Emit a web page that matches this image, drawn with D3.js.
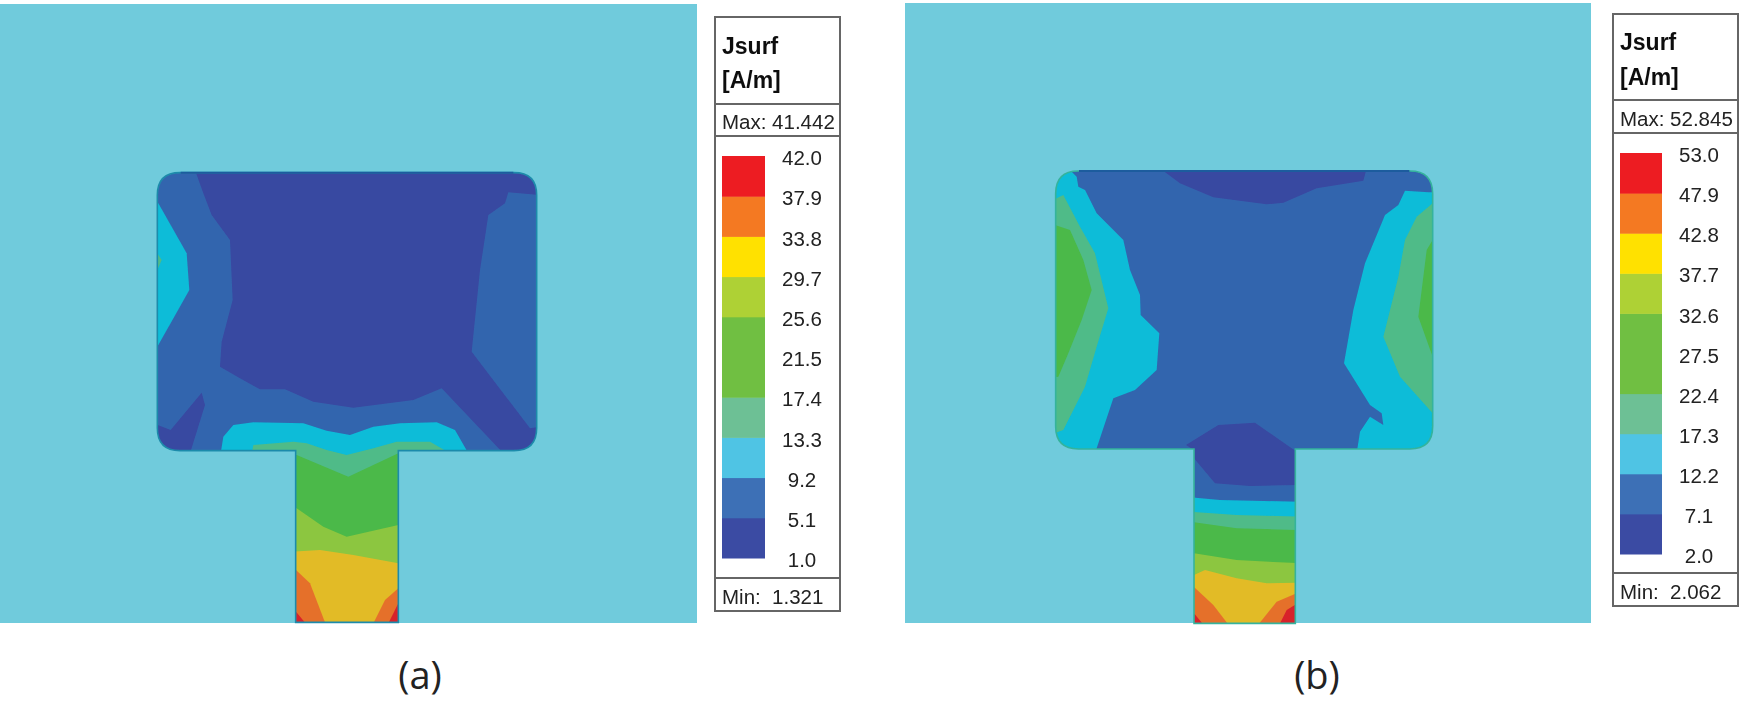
<!DOCTYPE html>
<html><head><meta charset="utf-8">
<script src="https://cdn.jsdelivr.net/npm/d3@7/dist/d3.min.js"></script>
<style>html,body{margin:0;padding:0;background:#fff;overflow:hidden}svg{display:block}</style>
</head><body><svg id="c" width="1744" height="705"></svg>
<script>
// legend ticks
const ticksA = [42.0,37.9,33.8,29.7,25.6,21.5,17.4,13.3,9.2,5.1,1.0];
const ticksB = [53.0,47.9,42.8,37.7,32.6,27.5,22.4,17.3,12.2,7.1,2.0];
const maxA = "41.442", minA = "1.321", maxB = "52.845", minB = "2.062";
const title = ["Jsurf","[A/m]"];
const captions = ["(a)","(b)"];
// colour per band, lowest first
const legendColors = ["#3a4ba3","#3d6fb6","#50c4e4","#6dc095","#70bf42","#70bf42","#aed136","#ffe100","#f47920","#ed1c24"];
const fieldColors  = ["#3948a1","#3365ae","#0cbcd8","#4fbb88","#4bb948","#4bb948","#8cc63f","#e2bb28","#e5702b","#d8202a"];

// contour regions of the current field: [band, vertices in mesh units], painted in order
const patchA = {x0:52,x1:1190,y0:38,y1:872,fx0:467,fx1:775,fy1:1387};
const patchB = {x0:47,x1:1178,y0:33,y1:867,fx0:462,fx1:766,fy1:1390};
const contoursA = [
 [0,[[165,30],[190,100],[215,165],[270,240],[278,420],[245,545],[240,620],[300,655],[360,688],[435,688],[520,725],[640,743],[820,720],[905,685],[1090,880],[1200,880],[1200,800],[1170,805],[995,575],[1020,330],[1045,165],[1095,130],[1105,97],[1200,105],[1200,30]]],
 [0,[[40,790],[92,810],[150,740],[185,698],[195,735],[150,880],[40,880]]],
 [2,[[40,125],[55,130],[140,280],[148,390],[52,560],[40,565]]],
 [3,[[40,280],[52,280],[65,300],[52,330],[40,330]]],
 [2,[[242,880],[250,830],[280,795],[340,787],[490,790],[560,812],[630,825],[700,800],[780,790],[890,787],[945,810],[985,880],[800,960],[440,960]]],
 [3,[[335,880],[340,855],[460,845],[500,850],[560,870],[620,885],[700,865],[770,845],[870,845],[930,880],[790,1000],[440,1000]]],
 [4,[[455,885],[470,885],[625,950],[775,880],[790,880],[790,1400],[455,1400]]],
 [6,[[455,1045],[470,1045],[550,1100],[620,1130],[775,1095],[790,1095],[790,1400],[455,1400]]],
 [7,[[455,1175],[540,1170],[640,1185],[775,1210],[790,1210],[790,1400],[455,1400]]],
 [8,[[455,1225],[468,1230],[510,1270],[560,1400],[455,1400]]],
 [8,[[695,1400],[735,1320],[775,1285],[790,1285],[790,1400]]],
 [9,[[455,1355],[468,1355],[505,1400],[455,1400]]],
 [9,[[740,1400],[775,1330],[790,1330],[790,1400]]]
];
const contoursB = [
 [0,[[360,25],[420,70],[520,112],[680,133],[730,128],[830,85],[970,62],[980,25]]],
 [2,[[30,30],[90,30],[110,50],[115,80],[135,90],[170,160],[250,240],[270,330],[300,405],[302,465],[358,520],[350,630],[285,690],[220,715],[165,880],[30,880]]],
 [3,[[30,145],[50,115],[70,105],[120,200],[165,280],[205,445],[170,560],[135,680],[70,810],[30,825]]],
 [4,[[30,190],[90,210],[130,300],[155,390],[125,480],[85,580],[55,650],[30,655]]],
 [2,[[1095,92],[1165,97],[1190,97],[1190,880],[950,880],[960,815],[990,770],[1030,795],[1025,760],[990,735],[912,610],[940,450],[975,310],[1035,165],[1075,135]]],
 [3,[[1190,125],[1178,130],[1130,170],[1095,240],[1075,350],[1030,530],[1080,650],[1178,760],[1190,760]]],
 [4,[[1190,240],[1178,240],[1160,270],[1135,470],[1178,590],[1190,590]]],
 [0,[[438,855],[535,795],[645,788],[770,875],[770,975],[630,978],[525,970],[462,895],[462,870]]],
 [2,[[450,1012],[540,1020],[780,1025],[780,1400],[450,1400]]],
 [3,[[450,1055],[590,1065],[780,1070],[780,1400],[450,1400]]],
 [4,[[450,1085],[590,1105],[780,1110],[780,1400],[450,1400]]],
 [6,[[450,1178],[590,1200],[780,1210],[780,1400],[450,1400]]],
 [7,[[450,1250],[495,1230],[590,1255],[680,1270],[780,1268],[780,1400],[450,1400]]],
 [8,[[450,1270],[520,1335],[570,1400],[450,1400]]],
 [8,[[650,1400],[710,1325],[780,1295],[780,1400]]],
 [9,[[450,1345],[495,1400],[450,1400]]],
 [9,[[715,1400],[740,1350],[780,1325],[780,1400]]]
];

const svg = d3.select("#c");
const defs = svg.append("defs");
defs.append("filter").attr("id","soft").attr("x","-2%").attr("y","-2%").attr("width","104%").attr("height","104%")
  .append("feGaussianBlur").attr("stdDeviation",0.6);
defs.append("filter").attr("id","softText").attr("x","-5%").attr("y","-5%").attr("width","110%").attr("height","110%")
  .append("feGaussianBlur").attr("stdDeviation",0.35);

function outline(p,x,y,r){
  const X=v=>x(v), Y=v=>y(v), R=x(p.x0+r)-x(p.x0);
  return `M${X(p.x0)+R},${Y(p.y0)}H${X(p.x1)-R}Q${X(p.x1)},${Y(p.y0)} ${X(p.x1)},${Y(p.y0)+R}`+
   `V${Y(p.y1)-R}Q${X(p.x1)},${Y(p.y1)} ${X(p.x1)-R},${Y(p.y1)}H${X(p.fx1)}V${Y(p.fy1)}H${X(p.fx0)}V${Y(p.y1)}`+
   `H${X(p.x0)+R}Q${X(p.x0)},${Y(p.y1)} ${X(p.x0)},${Y(p.y1)-R}V${Y(p.y0)+R}Q${X(p.x0)},${Y(p.y0)} ${X(p.x0)+R},${Y(p.y0)}Z`;
}

function field(id,cfg){
  const x=d3.scaleLinear().domain([0,1260]).range([cfg.ox,cfg.ox+420]);
  const y=d3.scaleLinear().domain([0,900]).range([160,460]);
  const g=svg.append("g").attr("filter","url(#soft)");
  g.append("rect").attr("x",cfg.bg[0]).attr("y",cfg.bg[1]).attr("width",cfg.bg[2]-cfg.bg[0]).attr("height",cfg.bg[3]-cfg.bg[1]).attr("fill","#6fcbdc");
  const d=outline(cfg.patch,x,y,68);
  defs.append("clipPath").attr("id","clip"+id).append("path").attr("d",d);
  const inner=g.append("g").attr("clip-path",`url(#clip${id})`);
  inner.append("path").attr("d",d).attr("fill",fieldColors[1]);
  const line=d3.line().x(p=>x(p[0])).y(p=>y(p[1])).curve(d3.curveLinearClosed);
  inner.selectAll("path.c").data(cfg.contours).join("path").attr("class","c")
    .attr("d",c=>line(c[1])).attr("fill",c=>fieldColors[c[0]]);
  g.append("path").attr("d",d).attr("fill","none").attr("stroke",cfg.edge).attr("stroke-width",1.6);
  const p=cfg.patch;
  g.append("line").attr("x1",x(p.x0+70)).attr("x2",x(p.x1-70)).attr("y1",y(p.y0)).attr("y2",y(p.y0)).attr("stroke","#1f5c9e").attr("stroke-width",2);
}

function legend(cfg){
  const g=svg.append("g").attr("filter","url(#softText)");
  const F="Liberation Sans, Arial, sans-serif";
  const L=cfg.box[0],R=cfg.box[1];
  g.append("rect").attr("x",L).attr("y",cfg.box[2]).attr("width",R-L).attr("height",cfg.box[3]-cfg.box[2]).attr("fill","#fff").attr("stroke","#666").attr("stroke-width",2);
  cfg.div.forEach(v=>g.append("line").attr("x1",L).attr("x2",R).attr("y1",v).attr("y2",v).attr("stroke","#666").attr("stroke-width",2));
  const tx=cfg.bar[0];
  title.forEach((t,i)=>g.append("text").attr("x",tx).attr("y",cfg.titleY[i]).text(t).attr("font-family",F).attr("font-weight",700).attr("font-size",23).attr("fill","#111"));
  g.append("text").attr("x",tx).attr("y",cfg.maxY).text("Max: "+cfg.max).attr("font-family",F).attr("font-size",20.5).attr("fill","#222");
  g.append("text").attr("x",tx).attr("y",cfg.minY).attr("xml:space","preserve").style("white-space","pre").text("Min:  "+cfg.min).attr("font-family",F).attr("font-size",20.5).attr("fill","#222");
  const n=cfg.ticks.length;
  const s=d3.scaleLinear().domain([cfg.ticks[n-1],cfg.ticks[0]]).range([cfg.yr[1],cfg.yr[0]]);
  const rev=cfg.ticks.slice().reverse();
  g.selectAll("rect.b").data(rev.slice(0,-1)).join("rect").attr("class","b")
    .attr("x",cfg.bar[0]).attr("width",cfg.bar[1]-cfg.bar[0])
    .attr("y",(d,i)=>s(rev[i+1])).attr("height",(d,i)=>s(d)-s(rev[i+1])+0.5)
    .attr("fill",(d,i)=>legendColors[i]);
  g.selectAll("text.t").data(cfg.ticks).join("text").attr("class","t")
    .attr("x",cfg.labelX).attr("y",d=>s(d)+2).attr("dy","0.35em").attr("text-anchor","middle")
    .attr("font-family",F).attr("font-size",20.5).attr("fill","#222").text(d=>d.toFixed(1));
}

field("A",{ox:140,bg:[0,4,697,623],patch:patchA,contours:contoursA,edge:"#1f8bab"});
field("B",{ox:1040,bg:[905,3,1591,623],patch:patchB,contours:contoursB,edge:"#35b39c"});
legend({box:[715,840,17,611],div:[104,136,578],bar:[722,765],titleY:[54,88],maxY:129,minY:604,ticks:ticksA,yr:[156,558],labelX:802,max:maxA,min:minA});
legend({box:[1613,1738,14,606],div:[100,133,573],bar:[1620,1662],titleY:[50,85],maxY:126,minY:599,ticks:ticksB,yr:[153,554],labelX:1699,max:maxB,min:minB});
captions.forEach((t,i)=>svg.append("text").attr("x",[420,1317][i]).attr("y",689).attr("text-anchor","middle")
  .attr("font-family","Open Sans, sans-serif").attr("font-size",38).attr("fill","#222").text(t));
</script></body></html>
